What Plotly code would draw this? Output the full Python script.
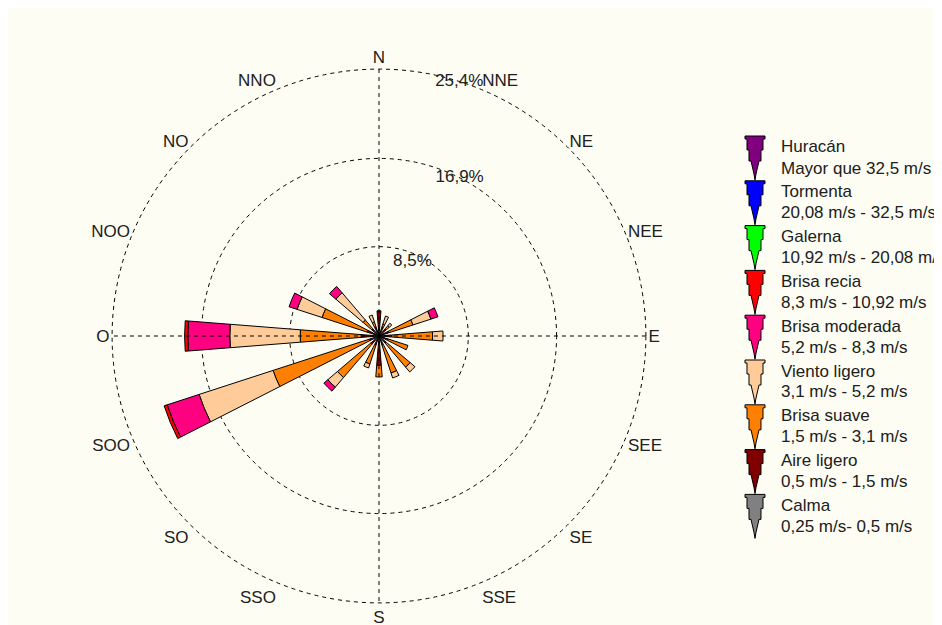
import plotly.graph_objects as go

# ---------------- data ----------------
directions = ["N", "NNE", "NE", "NEE", "E", "SEE", "SE", "SSE",
              "S", "SSO", "SO", "SOO", "O", "NOO", "NO", "NNO"]
angles = [0, 22.5, 45, 67.5, 90, 112.5, 135, 157.5,
          180, 202.5, 225, 247.5, 270, 292.5, 315, 337.5]

# percentage per speed class (segment sizes, stacked from the centre)
calma          = [0.4, 0.4, 0.4, 0.4, 0.4, 0.4, 0.4, 0.4, 0.4, 0.4, 0.4, 0.4, 0.4, 0.4, 0.4, 0.4]
aire_ligero    = [2.0, 0.5, 0.5, 0.6, 0.8, 0.5, 0.5, 0.5, 2.4, 0.5, 0.6, 0.6, 1.3, 0.8, 0.5, 0.5]
brisa_suave    = [0.0, 0.3, 0.4, 2.4, 3.9, 2.0, 3.0, 2.8, 1.1, 1.9, 4.2, 9.6, 5.8, 4.5, 1.1, 0.5]
viento_ligero  = [0.0, 0.8, 0.3, 1.8, 1.0, 0.0, 0.6, 0.5, 0.0, 0.4, 1.2, 7.4, 6.7, 2.5, 3.4, 0.7]
brisa_moderada = [0.0, 0.0, 0.0, 0.7, 0.0, 0.0, 0.0, 0.0, 0.0, 0.0, 0.5, 3.2, 4.0, 0.8, 0.8, 0.0]
brisa_recia    = [0.0, 0.0, 0.0, 0.0, 0.0, 0.0, 0.0, 0.0, 0.0, 0.0, 0.0, 0.3, 0.3, 0.0, 0.0, 0.0]
galerna        = [0.0, 0.0, 0.0, 0.0, 0.0, 0.0, 0.0, 0.0, 0.0, 0.0, 0.0, 0.0, 0.0, 0.0, 0.0, 0.0]
tormenta       = [0.0, 0.0, 0.0, 0.0, 0.0, 0.0, 0.0, 0.0, 0.0, 0.0, 0.0, 0.0, 0.0, 0.0, 0.0, 0.0]
huracan        = [0.0, 0.0, 0.0, 0.0, 0.0, 0.0, 0.0, 0.0, 0.0, 0.0, 0.0, 0.0, 0.0, 0.0, 0.0, 0.0]

class_names = ["Huracán", "Tormenta", "Galerna", "Brisa recia", "Brisa moderada",
               "Viento ligero", "Brisa suave", "Aire ligero", "Calma"]
class_ranges = ["Mayor que 32,5 m/s", "20,08 m/s - 32,5 m/s", "10,92 m/s - 20,08 m/s",
                "8,3 m/s - 10,92 m/s", "5,2 m/s - 8,3 m/s", "3,1 m/s - 5,2 m/s",
                "1,5 m/s - 3,1 m/s", "0,5 m/s - 1,5 m/s", "0,25 m/s- 0,5 m/s"]
class_colors = ["#800080", "#0000FF", "#00FF00", "#FF0000", "#FF0080",
                "#FFCC99", "#FF8000", "#800000", "#808080"]
class_values = [huracan, tormenta, galerna, brisa_recia, brisa_moderada,
                viento_ligero, brisa_suave, aire_ligero, calma]

ring_values = [8.5, 16.9, 25.4]
ring_labels = ["8,5%", "16,9%", "25,4%"]

# ---------------- figure ----------------
W, H = 942, 625
FONT = "Liberation Sans, Arial, sans-serif"
BG = "#fdfdf4"
TXT = "#202020"

fig = go.Figure()

# stacked bars: from the centre (Calma) outwards (Huracán)
for name, color, vals in reversed(list(zip(class_names, class_colors, class_values))):
    fig.add_trace(go.Barpolar(
        r=vals, theta=angles, name=name, width=9,
        marker=dict(color=color, line=dict(color="black", width=1)),
        showlegend=False, hoverinfo="skip"))

# dashed N-S and E-W cross lines
rmax = ring_values[-1]
for a in (0, 90):
    fig.add_trace(go.Scatterpolar(
        r=[rmax, 0, rmax], theta=[a, a, a + 180], mode="lines",
        line=dict(color="black", width=1, dash="4px,4px"),
        showlegend=False, hoverinfo="skip"))

# ring labels
fig.add_trace(go.Scatterpolar(
    r=ring_values, theta=[22, 27, 17.5], mode="text", text=ring_labels,
    textposition=["bottom center", "middle center", "middle center"],
    textfont=dict(family=FONT, size=17, color=TXT),
    showlegend=False, hoverinfo="skip"))

# page has an 8px body margin: positions below are in figure pixels
cx, cy, R = 371, 328, 269
fig.update_layout(
    width=W, height=H,
    margin=dict(l=0, r=0, t=0, b=0),
    paper_bgcolor=BG, plot_bgcolor=BG,
    polar=dict(
        domain=dict(x=[(cx - R) / W, (cx + R) / W],
                    y=[1 - (cy + R) / H, 1 - (cy - R) / H]),
        bgcolor="rgba(0,0,0,0)",
        barmode="stack",
        radialaxis=dict(range=[0, 25.6], tickvals=ring_values, showticklabels=False,
                        ticks="", showline=False, showgrid=True, gridcolor="black",
                        gridwidth=1, griddash="4px,4px"),
        angularaxis=dict(rotation=90, direction="clockwise", tickmode="array",
                         tickvals=angles, ticktext=directions, ticks="",
                         showline=False, showgrid=False,
                         tickfont=dict(family=FONT, size=17, color=TXT)),
    ),
)

# ---------------- manual legend ----------------
def px(x):
    return x / W

def py(y):
    return 1 - y / H

top0, step = 128, 44.8
lx0, lx1 = 737, 757
shapes = []
annotations = []
for i, (name, rng, color) in enumerate(zip(class_names, class_ranges, class_colors)):
    t = top0 + i * step
    xc = (lx0 + lx1) / 2
    pts = [(lx0, t), (lx1, t), (lx1, t + 3), (lx1 - 2, t + 3), (lx1 - 2, t + 14),
           (lx1 - 4, t + 14), (lx1 - 4, t + 25), (lx1 - 6, t + 25), (xc + 1, t + 38),
           (xc, t + 44), (xc - 1, t + 38), (lx0 + 6, t + 25), (lx0 + 4, t + 25),
           (lx0 + 4, t + 14), (lx0 + 2, t + 14), (lx0 + 2, t + 3), (lx0, t + 3)]
    path = "M " + " L ".join(f"{px(x):.5f},{py(y):.5f}" for x, y in pts) + " Z"
    shapes.append(dict(type="path", xref="paper", yref="paper", path=path,
                       fillcolor=color, line=dict(color="black", width=1)))
    annotations.append(dict(x=px(771), y=py(t + 11), xref="paper", yref="paper",
                            text=name, showarrow=False, xanchor="left", yanchor="middle",
                            font=dict(family=FONT, size=17, color=TXT)))
    annotations.append(dict(x=px(771), y=py(t + 32), xref="paper", yref="paper",
                            text=rng, showarrow=False, xanchor="left", yanchor="middle",
                            font=dict(family=FONT, size=17, color=TXT)))

fig.update_layout(shapes=shapes, annotations=annotations)

fig.write_html("out.html")
